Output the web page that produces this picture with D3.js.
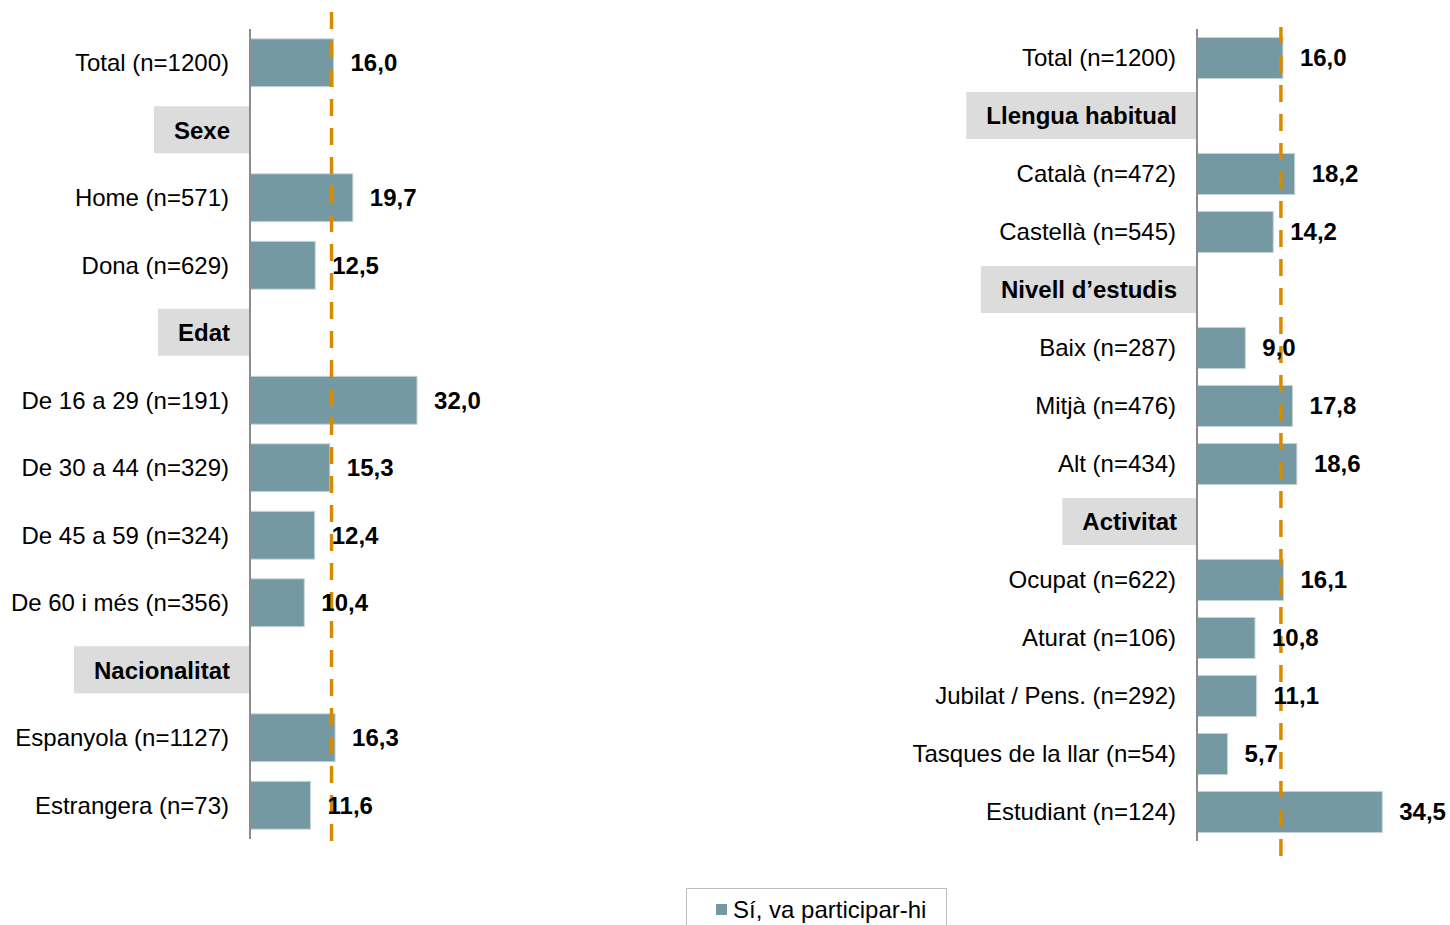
<!DOCTYPE html>
<html>
<head>
<meta charset="utf-8">
<script src="https://cdn.jsdelivr.net/npm/d3@7/dist/d3.min.js"></script>
<style>
    body { margin: 0; background: #fff; }
    svg { font-family: Arial, "Liberation Sans", sans-serif; }
</style>
</head>
<body>
<svg width="1450" height="925"></svg>
<script>
// left panel
var leftLabels = ["Total (n=1200)", "Sexe", "Home (n=571)", "Dona (n=629)", "Edat",
    "De 16 a 29 (n=191)", "De 30 a 44 (n=329)", "De 45 a 59 (n=324)", "De 60 i més (n=356)",
    "Nacionalitat", "Espanyola (n=1127)", "Estrangera (n=73)"];
var leftValues = [16.0, null, 19.7, 12.5, null, 32.0, 15.3, 12.4, 10.4, null, 16.3, 11.6];

// right panel
var rightLabels = ["Total (n=1200)", "Llengua habitual", "Català (n=472)", "Castellà (n=545)",
    "Nivell d’estudis", "Baix (n=287)", "Mitjà (n=476)", "Alt (n=434)", "Activitat",
    "Ocupat (n=622)", "Aturat (n=106)", "Jubilat / Pens. (n=292)", "Tasques de la llar (n=54)",
    "Estudiant (n=124)"];
var rightValues = [16.0, null, 18.2, 14.2, null, 9.0, 17.8, 18.6, null, 16.1, 10.8, 11.1, 5.7, 34.5];

var totalValue = 16.0;
var seriesName = "Sí, va participar-hi";

var barColor = "#7599a3";
var avgColor = "#d98b00";
var fontSize = 24;
var svg = d3.select("svg");

function fmt(v) {
    return d3.format(".1f")(v).replace(".", ",");
}

function drawPanel(labels, values, opt) {
    var g = svg.append("g");
    var idx = d3.range(labels.length);

    var x = d3.scaleLinear().domain([0, 40]).range([opt.x0, opt.x0 + opt.pxPerUnit * 40]);
    var y = d3.scaleBand().domain(idx).range([opt.top, opt.bottom])
        .paddingInner(0.29).paddingOuter(0.145);

    var rows = idx.map(function (i) {
        return {i: i, label: labels[i], value: values[i]};
    });

    // header boxes
    var heads = g.selectAll("g.head").data(rows.filter(function (d) { return d.value === null; }))
        .enter().append("g").attr("class", "head");
    var headBoxes = heads.append("rect").attr("fill", "#dcdcdc");
    heads.append("text")
        .attr("x", opt.x0 - 20)
        .attr("y", function (d) { return y(d.i) + y.bandwidth() / 2; })
        .attr("dy", "0.35em")
        .attr("text-anchor", "end")
        .attr("font-size", fontSize)
        .attr("font-weight", "bold")
        .attr("fill", "#000")
        .text(function (d) { return d.label; })
        .each(function (d) { d.w = this.getComputedTextLength(); });
    headBoxes
        .attr("x", function (d) { return opt.x0 - 20 - d.w - 20; })
        .attr("y", function (d) { return y(d.i) + y.bandwidth() / 2 - 24; })
        .attr("width", function (d) { return d.w + 40; })
        .attr("height", 47);

    var data = rows.filter(function (d) { return d.value !== null; });

    // category labels
    g.selectAll("text.cat").data(data).enter().append("text")
        .attr("class", "cat")
        .attr("x", opt.x0 - 21)
        .attr("y", function (d) { return y(d.i) + y.bandwidth() / 2; })
        .attr("dy", "0.35em")
        .attr("text-anchor", "end")
        .attr("font-size", fontSize)
        .attr("fill", "#000")
        .text(function (d) { return d.label; });

    // bars
    g.selectAll("rect.bar").data(data).enter().append("rect")
        .attr("class", "bar")
        .attr("x", x(0))
        .attr("y", function (d) { return y(d.i); })
        .attr("width", function (d) { return x(d.value) - x(0); })
        .attr("height", y.bandwidth())
        .attr("fill", barColor)
        .attr("stroke", "#c9d7db")
        .attr("stroke-width", 1);

    // axis line
    g.append("line")
        .attr("x1", x(0)).attr("x2", x(0))
        .attr("y1", opt.top).attr("y2", opt.bottom)
        .attr("stroke", "#8c8c8c")
        .attr("stroke-width", 2);

    // average line
    g.append("line")
        .attr("x1", x(totalValue) - 2).attr("x2", x(totalValue) - 2)
        .attr("y1", opt.avgTop).attr("y2", opt.avgBottom)
        .attr("stroke", avgColor)
        .attr("stroke-width", 3.5)
        .attr("stroke-dasharray", "17,12");

    // value labels
    g.selectAll("text.val").data(data).enter().append("text")
        .attr("class", "val")
        .attr("x", function (d) { return x(d.value) + 17; })
        .attr("y", function (d) { return y(d.i) + y.bandwidth() / 2; })
        .attr("dy", "0.35em")
        .attr("font-size", fontSize)
        .attr("font-weight", "bold")
        .attr("fill", "#000")
        .text(function (d) { return fmt(d.value); });
}

drawPanel(leftLabels, leftValues, {x0: 250, pxPerUnit: 5.22, top: 29, bottom: 839, avgTop: 12, avgBottom: 846});
drawPanel(rightLabels, rightValues, {x0: 1197, pxPerUnit: 5.37, top: 29, bottom: 841, avgTop: 27, avgBottom: 858});

// legend
var legend = svg.append("g");
legend.append("rect")
    .attr("x", 686.5).attr("y", 888.5)
    .attr("width", 260).attr("height", 60)
    .attr("fill", "#fff")
    .attr("stroke", "#bfbfbf");
legend.append("rect")
    .attr("x", 716).attr("y", 904)
    .attr("width", 11).attr("height", 11)
    .attr("fill", barColor);
legend.append("text")
    .attr("x", 733).attr("y", 910)
    .attr("dy", "0.35em")
    .attr("font-size", fontSize)
    .attr("fill", "#000")
    .text(seriesName);
</script>
</body>
</html>
